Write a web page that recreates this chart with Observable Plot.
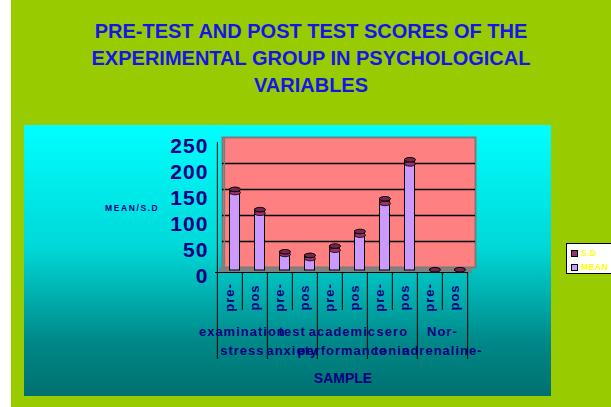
<!DOCTYPE html>
<html>
<head>
<meta charset="utf-8">
<script src="https://cdn.jsdelivr.net/npm/d3@7"></script>
<script src="https://cdn.jsdelivr.net/npm/@observablehq/plot@0.6"></script>
<style>
  html, body { margin: 0; padding: 0; }
  body { width: 611px; height: 407px; background: #fff; position: relative; overflow: hidden; font-family: Arial, "Liberation Sans", sans-serif; }
  #green { position: absolute; left: 11px; top: 0; width: 600px; height: 407px; background: #99CC00; }
  #title { position: absolute; left: 11px; top: 18px; width: 600px; text-align: center; color: #1515E6; font-weight: bold; font-size: 20px; line-height: 27px; }
  #panel { position: absolute; left: 24px; top: 125px; width: 527px; height: 271px; background: linear-gradient(to bottom, #00FFFF 0%, #00D8D8 45%, #008888 80%, #007070 100%); }
  #chart { position: absolute; left: 0; top: 0; }
  #ylab { position: absolute; left: 81px; top: 78px; color: #000080; font-weight: bold; font-size: 8.5px; letter-spacing: 1.6px; }
  #xlab { position: absolute; left: 0; width: 638px; top: 245px; text-align: center; color: #000080; font-weight: bold; font-size: 14px; }
  #legend { position: absolute; left: 566px; top: 243px; width: 60px; height: 31px; background: #fff; border: 1px solid #000; box-sizing: border-box; }
  .li { position: absolute; left: 4px; font-size: 8.5px; font-weight: bold; color: #FFFF00; letter-spacing: 0.5px; }
  .sw { display: inline-block; width: 5px; height: 5px; border: 1px solid #000; margin-right: 3px; vertical-align: -1px; }
</style>
</head>
<body>
<div id="green"></div>
<div id="title">PRE-TEST AND POST TEST SCORES OF THE<br>EXPERIMENTAL GROUP IN PSYCHOLOGICAL<br>VARIABLES</div>
<div id="panel">
  <div id="chart"></div>
  <div id="ylab">MEAN/S.D</div>
  <div id="xlab">SAMPLE</div>
</div>
<div id="legend">
  <div class="li" style="top:4px"><span class="sw" style="background:#993366"></span>S.D</div>
  <div class="li" style="top:18px"><span class="sw" style="background:#CC99FF"></span>MEAN</div>
</div>
<script>
const groups = ["examination stress", "test anxiety", "academic performance", "sero tonin", "Nor-adrenaline-"];
const groupLine1 = ["examination", "test", "academic", "sero", "Nor-"];
const groupLine2 = ["stress", "anxiety", "performance", "tonin", "adrenaline-"];
const phases = ["pre-", "pos"];
const meanValues = [150, 110, 31, 23, 39, 68, 129, 205, 0.5, 0.5];
const sdValues = [6, 7, 5, 6, 8, 7, 9, 8, 1, 1];
const yTicks = [0, 50, 100, 150, 200, 250];

const keys = [];
groups.forEach((g, i) => phases.forEach(p => keys.push(i + "|" + p)));
const rows = [];
keys.forEach((k, i) => {
  rows.push({key: k, series: "MEAN", value: meanValues[i]});
  rows.push({key: k, series: "S.D", value: sdValues[i]});
});
const totals = keys.map((k, i) => ({key: k, mean: meanValues[i], total: meanValues[i] + sdValues[i]}));
const phaseRows = keys.map(k => ({key: k, label: k.split("|")[1]}));
const groupRows = groups.map((g, i) => ({key: i + "|pos", l1: groupLine1[i], l2: groupLine2[i]}));

const W = 527, H = 271;
const mL = 191, mR = W - 444, mT = 17, mB = H - 147;
const band = (W - mL - mR) / keys.length;
const px = 130 / 250;
const u = p => -p / px;

function ellipseSymbol(rx, ry) {
  const k = 0.5523;
  return {
    draw(ctx) {
      ctx.moveTo(-rx, 0);
      ctx.bezierCurveTo(-rx, -ry * k, -rx * k, -ry, 0, -ry);
      ctx.bezierCurveTo(rx * k, -ry, rx, -ry * k, rx, 0);
      ctx.bezierCurveTo(rx, ry * k, rx * k, ry, 0, ry);
      ctx.bezierCurveTo(-rx * k, ry, -rx, ry * k, -rx, 0);
      ctx.closePath();
    }
  };
}
const cap = ellipseSymbol(5.5, 2.3);
const font = "Arial, Liberation Sans";

const chart = Plot.plot({
  width: W, height: H,
  marginLeft: mL, marginRight: mR, marginTop: mT, marginBottom: mB,
  style: {background: "transparent", overflow: "visible"},
  x: {domain: keys, padding: 0, axis: null},
  y: {domain: [0, 250], axis: null},
  color: {domain: ["MEAN", "S.D"], range: ["#CC99FF", "#993366"]},
  marks: [
    Plot.frame({fill: "#FF8080", stroke: "#7a7a7a", strokeWidth: 2, dx: 7, dy: -5}),
    Plot.ruleY(yTicks.filter(d => d > 0 && d < 250), {dx: 7, dy: -5, stroke: "#000", strokeWidth: 1.3}),
    Plot.ruleY([0], {stroke: "#808080", strokeWidth: 5, dx: 4, dy: -2}),
    Plot.ruleX([keys[0]], {y1: 0, y2: 250, dx: -band / 2 + 7, dy: -5, stroke: "#7a7a7a", strokeWidth: 1.5}),
    Plot.barY(rows, Plot.stackY({
      x: "key", y: "value", fill: "series",
      stroke: "#000", strokeWidth: 1, insetLeft: 7.5, insetRight: 7.5, dx: 5, dy: -2
    })),
    Plot.dot(totals.filter(d => d.mean > 2), {
      x: "key", y: "mean", symbol: cap, r: 3, fill: "#993366", stroke: "#000", strokeWidth: 0.8, dx: 5, dy: -2
    }),
    Plot.dot(totals, {
      x: "key", y: "total", symbol: cap, r: 3, fill: "#7a2450", stroke: "#000", strokeWidth: 1, dx: 5, dy: -2
    }),
    Plot.ruleY([0], {stroke: "#000", strokeWidth: 1}),
    Plot.ruleX([keys[0]], {y1: 0, y2: 250, dx: -band / 2, stroke: "#000", strokeWidth: 1}),
    Plot.tickY(yTicks, {x: keys[0], dx: -band / 2 - 3, stroke: "#000", strokeWidth: 1}),
    Plot.text(yTicks, {
      x: () => keys[0], y: d => d, text: d => String(d), dx: -band / 2 - 9, dy: 4,
      textAnchor: "end", fill: "#000080", fontSize: 21, fontWeight: "bold", fontFamily: font
    }),
    Plot.ruleX(keys.filter(k => k.endsWith("pos")), {x: d => d, y1: 0, y2: u(38), dx: -band / 2, stroke: "#000", strokeWidth: 1}),
    Plot.ruleX(keys.filter(k => k.endsWith("pre-")), {x: d => d, y1: 0, y2: u(87), dx: -band / 2, stroke: "#000", strokeWidth: 1}),
    Plot.ruleX([keys[keys.length - 1]], {y1: 0, y2: u(87), dx: band / 2, stroke: "#000", strokeWidth: 1}),
    Plot.text(phaseRows, {
      x: "key", y: () => 0, text: "label", rotate: -90, dy: 25, textAnchor: "middle",
      fill: "#000080", fontSize: 13, fontWeight: "bold", fontFamily: font
    }),
    Plot.text(groupRows, {
      x: "key", y: () => 0, text: "l1", dx: -band / 2, dy: 59,
      fill: "#000080", fontSize: 13, fontWeight: "bold", fontFamily: font
    }),
    Plot.text(groupRows, {
      x: "key", y: () => 0, text: "l2", dx: -band / 2, dy: 78,
      fill: "#000080", fontSize: 13, fontWeight: "bold", fontFamily: font
    })
  ]
});
chart.querySelectorAll("text").forEach(t => { t.style.letterSpacing = "1px"; });
document.getElementById("chart").appendChild(chart);
</script>
</body>
</html>
